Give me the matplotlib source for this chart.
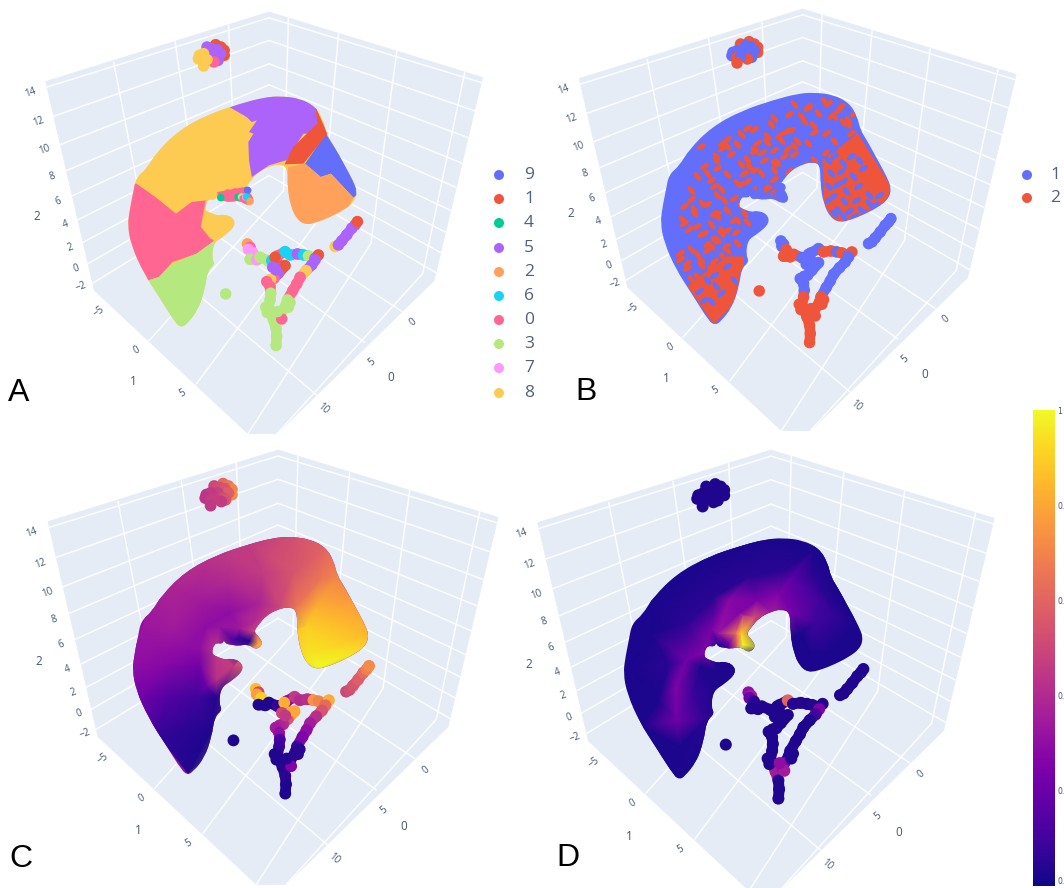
import numpy as np
import matplotlib
matplotlib.use("Agg")
import matplotlib.pyplot as plt
from matplotlib.patches import Polygon, PathPatch
from matplotlib.path import Path
from matplotlib.markers import MarkerStyle
from matplotlib.transforms import Affine2D
from matplotlib.cm import ScalarMappable
from matplotlib.colors import Normalize

BG = "#E5ECF6"
TICK = "#44566f"
COL = {9: "#636EFA", 1: "#EF553B", 4: "#00CC96", 5: "#AB63FA", 2: "#FFA15A",
       6: "#19D3F3", 0: "#FF6692", 3: "#B6E880", 7: "#FF97FF", 8: "#FECB52"}
legend_a = [9, 1, 4, 5, 2, 6, 0, 3, 7, 8]
legend_a_y = [175, 199, 223, 248, 272, 296, 320, 344, 368, 393]
legend_b = [1, 2]
legend_b_y = [175, 198]

# panel: apex of the scene box in figure pixels, and scale
panels = {"A": (269, 12, 1.0), "B": (802.5, 9, 1.0), "C": (278, 450, 1.03), "D": (771, 450, 1.045)}

# --- scene box ---
left_wall = [(145, 245), (835, 30), (835, 555), (295, 890)]
right_wall = [(835, 30), (1495, 232), (1345, 860), (835, 555)]
floor = [(295, 890), (835, 555), (1345, 860), (860, 1333), (770, 1333)]
grid_lines = [
    # z lines, left wall
    (149, 262, 835, 48), (170, 352, 835, 118), (190, 440, 835, 190), (209, 520, 835, 255),
    (227, 598, 835, 318), (244, 672, 835, 378), (260, 742, 835, 433), (275, 808, 835, 485),
    (290, 868, 835, 535),
    # z lines, right wall
    (835, 48, 1491, 248), (835, 118, 1470, 335), (835, 190, 1450, 418), (835, 255, 1431, 497),
    (835, 318, 1413, 572), (835, 378, 1396, 643), (835, 433, 1380, 710), (835, 485, 1365, 773),
    (835, 535, 1350, 835),
    # uprights
    (355, 185, 470, 780), (545, 122, 625, 685), (710, 70, 735, 620),
    (895, 48, 880, 582), (1050, 97, 1000, 655), (1230, 152, 1150, 745), (1440, 215, 1310, 838),
    # floor
    (880, 582, 465, 1045), (1000, 655, 610, 1180), (1150, 745, 770, 1333), (1310, 838, 860, 1333),
    (735, 620, 1245, 955), (625, 685, 1130, 1050), (470, 780, 990, 1220),
]
tick_text = ["14", "12", "10", "8", "6", "4", "2", "0", "\u22122"]
tick_x = [97, 122, 143, 165, 185, 205, 222, 238, 255]
tick_y = [278, 370, 457, 538, 615, 688, 757, 822, 880]
base_text = ["\u22125", "0", "5", "10", "5", "0"]
base_x = [310, 427, 567, 1002, 1152, 1280]
base_y = [955, 1075, 1210, 1255, 1112, 990]
base_rot = [35, 30, 30, -40, 40, 40]
title_text = ["2", "1", "0"]
title_x = [118, 415, 1212]
title_y = [663, 1172, 1160]

# --- main body outline (panel C crop coordinates) ---
body_x = [870, 930, 978, 1002, 1012, 1034, 1064, 1094, 1108, 1098, 1062, 1022, 985, 950, 922, 902, 892, 892,
          865, 835, 800, 775, 762, 778, 790, 770, 745, 715, 695, 680, 672, 668, 645, 635, 650, 680, 690, 722,
          732, 697, 664, 658, 668, 645, 636, 615, 580, 565, 548, 498, 446, 410, 398, 405, 415, 424, 456, 486, 556,
          648, 750, 820]
body_y = [290, 297, 322, 362, 405, 440, 495, 550, 585, 618, 644, 664, 679, 688, 672, 630, 570, 510,
          501, 508, 526, 556, 575, 590, 612, 630, 612, 618, 614, 612, 600, 612, 608, 640, 650, 660, 655, 663,
          690, 722, 742, 790, 810, 830, 890, 952, 995, 1004, 994, 914, 834, 752, 690, 640, 590, 543, 516, 466, 396,
          346, 312, 294]

# panel A regions, crop-A coordinates
a_8 = [(665, 320), (715, 350), (730, 365), (745, 360), (722, 395), (735, 400), (720, 425), (738, 480), (722, 530),
       (690, 555), (650, 580), (610, 590), (575, 592), (555, 605), (510, 640), (450, 590), (395, 550), (360, 400),
       (600, 250)]
a_8b = [(596, 600), (632, 600), (640, 640), (680, 650), (684, 680), (630, 722), (610, 715), (582, 680)]
a_0 = [(395, 550), (450, 590), (510, 640), (555, 605), (600, 600), (590, 650), (590, 680), (620, 722),
       (570, 760), (500, 785), (460, 830), (430, 840), (340, 800), (340, 560)]
a_3 = [(430, 840), (460, 830), (500, 790), (570, 760), (620, 722), (640, 800), (620, 900), (525, 1000), (420, 900)]
a_5 = [(665, 320), (800, 270), (920, 300), (920, 400), (880, 400), (830, 480), (780, 495), (730, 530), (722, 480),
       (720, 425), (735, 400), (722, 395), (745, 360), (730, 365), (715, 350)]
a_1 = [(915, 320), (950, 400), (880, 490), (825, 492), (850, 440), (890, 400), (920, 370)]
a_9 = [(945, 400), (1050, 570), (1025, 592), (960, 520), (930, 530), (885, 490)]
a_2 = [(835, 500), (885, 490), (930, 530), (960, 520), (1025, 592), (1000, 640), (890, 690), (830, 620)]
a_stub = [(630, 575), (735, 555), (740, 625), (630, 612)]
a_regions = [(a_8, 8), (a_0, 0), (a_3, 3), (a_8b, 8), (a_5, 5), (a_9, 9), (a_2, 2), (a_1, 1), (a_stub, 0)]

# panel B: solid red areas and flecks, crop-B coordinates
b_tip = [(440, 860), (480, 830), (520, 800), (560, 770), (610, 770), (610, 840), (590, 900), (520, 975)]
b_right = [(845, 480), (900, 440), (950, 400), (1050, 560), (1040, 600), (960, 650), (890, 672), (850, 620)]
b_red_x = [620, 560, 545, 525, 545, 625, 490, 470, 430, 485, 520, 550, 600, 530, 470, 510, 420,
           480, 500, 540, 580, 610, 650, 680, 700, 720, 750, 780, 800, 830, 860, 880, 900, 920, 940, 760, 730,
           700, 670, 640, 610, 590, 520, 500, 480, 450, 430, 460, 490, 520, 555, 590, 570, 545, 510, 470, 440,
           760, 800, 850, 890, 700, 745, 790, 870, 920, 640, 690, 735, 815, 855, 905, 560, 600, 715, 770, 820,
           880, 930, 590, 640, 680, 740, 800, 855, 525, 570, 620, 665, 710, 760, 820, 530, 600,
           640, 700, 745, 800, 510, 560, 620, 660, 700, 540, 600, 650, 450, 530, 580, 460,
           500, 560, 610, 425, 530, 590, 445, 510, 560, 620, 480, 530, 585, 450,
           500, 560, 420, 470, 520, 545, 440, 480, 510, 450, 490]
b_red_y = [385, 440, 445, 470, 430, 500, 500, 530, 620, 610, 640, 600, 610, 650, 680, 740, 760,
           780, 750, 700, 660, 640, 430, 410, 450, 420, 390, 350, 320, 340, 310, 350, 320, 360, 340, 440, 470,
           510, 480, 450, 520, 550, 560, 520, 440, 570, 670, 640, 700, 720, 740, 730, 780, 690, 800, 830, 790,
           312, 326, 305, 332, 356, 342, 364, 348, 372, 388, 372, 395, 376, 399, 368, 418, 402, 405, 425, 398,
           424, 400, 432, 455, 428, 448, 430, 458, 482, 462, 478, 458, 486, 464, 480, 505, 492,
           512, 490, 515, 496, 540, 522, 545, 520, 538, 568, 552, 570, 598, 585, 596, 628,
           612, 632, 608, 658, 644, 662, 688, 672, 690, 668, 702, 718, 696, 748,
           732, 752, 778, 762, 784, 768, 806, 796, 812, 838, 826]
b_blue_x = [490, 510, 475, 525, 560, 500, 540, 860, 880, 905, 930, 870, 900, 935, 965, 860, 885, 915, 950, 985, 875,
            910, 945, 985, 1015, 890, 925, 960, 1000, 905, 940, 975, 860, 880, 905, 955, 875, 580, 520]
b_blue_y = [900, 905, 875, 860, 800, 840, 880, 480, 470, 490, 470, 520, 515, 530, 505, 560, 555, 575, 560, 585, 590,
            605, 600, 610, 585, 630, 635, 630, 615, 650, 650, 640, 600, 640, 545, 480, 450, 840, 825]

# panel C colour field: points inside the body and the value they show
c_x = [565, 480, 550, 630, 420, 500, 590, 650, 403, 500, 600, 430, 520, 620, 520, 600, 690, 620, 680, 780, 750, 790,
       840, 870, 880, 890, 975, 960, 1010, 950, 1060, 1000, 920, 1100, 1000, 930, 1060, 960, 650, 700, 650, 620,
       700, 720, 750, 775, 768, 380, 1130, 700, 1000, 600, 660, 740, 470, 560, 450, 700, 800, 720, 760]
c_y = [1000, 890, 880, 880, 770, 770, 770, 770, 680, 670, 680, 560, 560, 560, 450, 480, 520, 370, 420, 490, 315, 400,
       500, 292, 400, 500, 325, 420, 410, 500, 495, 540, 560, 585, 620, 640, 640, 680, 630, 680, 720, 740,
       600, 590, 603, 612, 575, 700, 600, 250, 280, 620, 560, 530, 620, 620, 500, 350, 350, 565, 548]
c_v = [.03, .07, .05, .03, .22, .15, .10, .04, .30, .28, .22, .33, .35, .30, .38, .35, .30, .42, .40, .38, .46, .46,
       .50, .52, .55, .65, .60, .66, .70, .82, .78, .85, .90, .85, .92, .95, .95, 1.0, .45, .47, .42, .20,
       .12, .10, .03, .80, .50, .30, .85, .46, .60, .30, .32, .38, .31, .30, .35, .45, .50, .34, .40]

# panel D colour field, crop-D coordinates
d_x = [470, 500, 570, 650, 700, 800, 880, 920, 470, 545, 590, 660, 690, 745, 800, 860, 960, 640, 655, 660, 640, 620, 595,
       400, 330, 370, 470, 700, 900, 990, 850, 600, 520, 560, 760, 620, 850,
       450, 500, 580, 680, 780, 860, 900, 400, 450, 560, 680, 780, 860, 900, 950, 420, 540, 580, 575, 820, 900, 960, 480,
       620, 760]
d_y = [960, 780, 690, 640, 600, 530, 600, 650, 860, 760, 700, 650, 650, 640, 640, 670, 660, 700, 700, 735, 735, 730, 735,
       600, 800, 980, 1130, 420, 450, 700, 800, 820, 880, 960, 750, 790, 760,
       800, 670, 590, 530, 510, 530, 600, 700, 560, 470, 430, 420, 450, 500, 620, 900, 800, 810, 870, 700, 760, 700, 1040,
       600, 580]
d_v = [.22, .22, .24, .26, .24, .16, .09, .07, .25, .26, .32, .45, .50, .35, .22, .10, .03, .65, .90, 1.0, .55, .20, .04,
       .02, .02, .02, .02, .02, .02, .02, .02, .03, .08, .05, .02, .04, .02,
       .05, .05, .05, .05, .05, .05, .05, .02, .02, .02, .02, .02, .02, .02, .02, .02, .03, .03, .03, .02, .02, .02, .02,
       .28, .25]

# top island, crop-A coordinates
isl_x = [625, 640, 650, 650, 600, 615, 630, 640, 610, 625, 632, 620, 578, 590, 575, 590, 600, 590]
isl_y = [133, 140, 150, 165, 140, 145, 148, 160, 160, 175, 180, 185, 165, 160, 175, 180, 178, 197]
isl_a = [1, 1, 1, 1, 5, 5, 5, 5, 5, 5, 5, 0, 8, 8, 8, 8, 8, 8]
isl_b = [2, 2, 2, 2, 2, 1, 1, 1, 1, 1, 1, 2, 1, 1, 1, 2, 1, 2]
isl_c = [.62, .66, .70, .72, .50, .52, .55, .58, .48, .52, .55, .46, .44, .45, .44, .46, .47, .45]
isl_d = [.03] * len(isl_x)

# small stub by the hole, crop-A coordinates
stub_x = [640, 660, 680, 690, 700, 705, 712, 718, 715, 725]
stub_y = [592, 578, 575, 590, 590, 595, 590, 570, 590, 603]
stub_a = [4, 0, 0, 4, 3, 0, 7, 9, 6, 2]
stub_b = [1, 1, 2, 1, 2, 1, 2, 1, 1, 1]

# legs and small branches, zoomed crop coordinates
leg_x = [142, 150, 145, 158, 150, 170, 180, 205, 215, 232, 255, 270, 292, 310, 325, 345, 355,
         225, 240, 235, 255, 222, 212, 200, 210, 212, 210, 205, 212, 220, 228, 230, 228,
         345, 335, 318, 300, 290, 278, 262, 258, 245, 240, 245, 77,
         405, 415, 425, 440, 455, 465, 472,
         197, 202, 270, 265, 232, 218, 228]
leg_y = [222, 232, 238, 248, 268, 270, 262, 272, 272, 258, 245, 255, 252, 255, 258, 265, 255,
         262, 295, 310, 287, 325, 328, 335, 350, 370, 390, 415, 430, 450, 475, 500, 527,
         270, 285, 302, 322, 342, 362, 390, 405, 425, 440, 447, 372,
         230, 225, 213, 195, 175, 165, 155,
         412, 428, 398, 412, 425, 292, 300]
leg_a = [2, 0, 7, 7, 3, 7, 3, 3, 6, 0, 6, 6, 5, 6, 3, 5, 1,
         1, 5, 5, 1, 0, 8, 0, 0, 3, 3, 3, 3, 3, 3, 3, 3,
         5, 5, 8, 0, 0, 0, 3, 3, 3, 3, 0, 3,
         8, 5, 5, 5, 5, 5, 1,
         3, 3, 3, 3, 3, 5, 5]
leg_b = [1, 1, 1, 2, 2, 2, 2, 1, 1, 1, 1, 2, 2, 1, 2, 1, 2,
         1, 1, 1, 1, 1, 1, 1, 1, 1, 2, 2, 2, 2, 2, 2, 2,
         1, 1, 1, 1, 1, 1, 2, 2, 2, 2, 2, 2,
         1, 1, 1, 1, 1, 1, 1,
         2, 2, 2, 2, 2, 1, 1]
leg_c = [.85, .50, .78, .90, .03, .03, .03, .08, .06, .30, .45, .40, .42, .75, .70, .65, .82,
         .82, .80, .55, .80, .40, .38, .35, .30, .12, .08, .05, .03, .04, .05, .03, .03,
         .62, .55, .42, .35, .30, .25, .08, .05, .03, .04, .25, .03,
         .50, .52, .55, .58, .62, .68, .72,
         .03, .03, .05, .05, .04, .50, .45]
leg_d = [.30, .35, .20, .05, .03, .03, .03, .03, .03, .03, .60, .04, .04, .03, .04, .04, .03,
         .03, .03, .03, .03, .03, .03, .03, .03, .03, .03, .03, .25, .35, .03, .03, .03,
         .25, .10, .03, .03, .03, .03, .03, .03, .25, .30, .35, .03,
         .03, .03, .03, .03, .03, .03, .03,
         .03, .03, .03, .03, .30, .03, .03]
# index ranges of the joined-up runs in the leg arrays
leg_runs = [(0, 17), (17, 33), (33, 44), (45, 52)]


def from_a(x, y):
    return 835 + (np.asarray(x, float) - 780) * 1.064, 30 + (np.asarray(y, float) - 35) * 1.03


def from_b(x, y):
    return 835 + (np.asarray(x, float) - 785) * 1.033, 30 + (np.asarray(y, float) - 28) * 1.03


def from_d(x, y):
    return 63 + 1.045 * np.asarray(x, float), -118 + 0.985 * np.asarray(y, float)


def from_zoom(x, y):
    return 622 + 1.03 * np.asarray(x, float), 518 + 1.03 * np.asarray(y, float)


def place(x, y, name):
    ox, oy, s = panels[name]
    return ox + s * (np.asarray(x, float) - 835) / 3.09, oy + s * (np.asarray(y, float) - 30) / 3.09


def dots(ax, x, y, c, name, size=11.5, z=5):
    px, py = place(x, y, name)
    d = size * panels[name][2] * 0.72
    ax.scatter(px, py, s=d ** 2, c=c, linewidths=0, zorder=z)


def legs(ax, colors, name):
    px, py = place(leg_sx, leg_sy, name)
    lw = 10.5 * panels[name][2] * 0.72
    for a, b in leg_runs:
        for i in range(a, b - 1):
            ax.plot(px[i:i + 2], py[i:i + 2], color=colors[i], lw=lw, solid_capstyle="round", zorder=4.5)
    dots(ax, leg_sx, leg_sy, colors, name)


def frame(ax, name):
    for face in (left_wall, right_wall, floor):
        xs, ys = place([p[0] for p in face], [p[1] for p in face], name)
        ax.add_patch(Polygon(np.column_stack([xs, ys]), fc=BG, ec=BG, lw=0.5, zorder=1))
    for x0, y0, x1, y1 in grid_lines:
        xs, ys = place([x0, x1], [y0, y1], name)
        ax.plot(xs, ys, color="white", lw=1.1, alpha=0.9, zorder=2, solid_capstyle="round")
    xs, ys = place(tick_x, tick_y, name)
    for t, x, y in zip(tick_text, xs, ys):
        ax.text(x, y, t, fontsize=7, color=TICK, rotation=20, ha="center", va="center", family="Open Sans")
    xs, ys = place(base_x, base_y, name)
    for t, x, y, r in zip(base_text, xs, ys, base_rot):
        ax.text(x, y, t, fontsize=7, color=TICK, rotation=r, ha="center", va="center", family="Open Sans")
    xs, ys = place(title_x, title_y, name)
    for t, x, y in zip(title_text, xs, ys):
        ax.text(x, y, t, fontsize=8.5, color=TICK, ha="center", va="center", family="Open Sans")


def body(ax, name, color, edge=True):
    # closed quadratic curve through the midpoints, so the outline stays round
    xs, ys = place(body_x, body_y, name)
    pts = np.column_stack([xs, ys])
    mids = (pts + np.roll(pts, -1, axis=0)) / 2
    verts, codes = [mids[-1]], [Path.MOVETO]
    for p, m in zip(pts, mids):
        verts += [p, m]
        codes += [Path.CURVE3, Path.CURVE3]
    patch = PathPatch(Path(np.array(verts), codes), fc=color, ec=color if edge else "none", lw=1.0, zorder=3)
    ax.add_patch(patch)
    return patch


def clipped_poly(ax, pts, color, conv, name, clip):
    x, y = conv([p[0] for p in pts], [p[1] for p in pts])
    xs, ys = place(x, y, name)
    p = Polygon(np.column_stack([xs, ys]), fc=color, ec="none", zorder=3.5)
    ax.add_patch(p)
    p.set_clip_path(clip)


def flecks(ax, x, y, color, clip, z):
    # short worm-like marks, two orientations
    sx, sy = from_b(x, y)
    px, py = place(sx, sy, "B")
    for k, angle in enumerate((35, -50)):
        mk = MarkerStyle("o", transform=Affine2D().scale(1.5, 0.75).rotate_deg(angle))
        sc = ax.scatter(px[k::2], py[k::2], s=24, c=color, marker=mk, linewidths=0, zorder=z)
        sc.set_clip_path(clip)


fig = plt.figure(figsize=(10.64, 8.88), dpi=100)
ax = fig.add_axes([0, 0, 1, 1])
ax.set_xlim(0, 1064)
ax.set_ylim(888, 0)
ax.axis("off")

for name in panels:
    frame(ax, name)

leg_sx, leg_sy = from_zoom(leg_x, leg_y)
isl_sx, isl_sy = from_a(isl_x, isl_y)
stub_sx, stub_sy = from_a(stub_x, stub_y)

# A
clip = body(ax, "A", COL[8], edge=False)
for pts, k in a_regions:
    clipped_poly(ax, pts, COL[k], from_a, "A", clip)
dots(ax, stub_sx, stub_sy, [COL[k] for k in stub_a], "A", size=7.5)
legs(ax, [COL[k] for k in leg_a], "A")
dots(ax, isl_sx, isl_sy, [COL[k] for k in isl_a], "A")

# B
clip = body(ax, "B", COL[9])
clipped_poly(ax, b_tip, COL[1], from_b, "B", clip)
clipped_poly(ax, b_right, COL[1], from_b, "B", clip)
flecks(ax, np.array(b_red_x, float), np.array(b_red_y, float), COL[1], clip, 3.6)
flecks(ax, np.array(b_blue_x, float), np.array(b_blue_y, float), COL[9], clip, 3.7)
dots(ax, stub_sx, stub_sy, [COL[{1: 9, 2: 1}[k]] for k in stub_b], "B", size=9)
legs(ax, [COL[{1: 9, 2: 1}[k]] for k in leg_b], "B")
dots(ax, isl_sx, isl_sy, [COL[{1: 9, 2: 1}[k]] for k in isl_b], "B")

# C
clip = body(ax, "C", plt.cm.plasma(0.3), edge=False)
px, py = place(c_x, c_y, "C")
m = ax.tripcolor(px, py, c_v, shading="gouraud", cmap="plasma", vmin=0, vmax=1, zorder=3.5)
m.set_clip_path(clip)
legs(ax, plt.cm.plasma(leg_c), "C")
dots(ax, isl_sx, isl_sy, plt.cm.plasma(isl_c), "C")

# D
clip = body(ax, "D", plt.cm.plasma(0.02), edge=False)
sx, sy = from_d(d_x, d_y)
px, py = place(sx, sy, "D")
m = ax.tripcolor(px, py, d_v, shading="gouraud", cmap="plasma", vmin=0, vmax=1, zorder=3.5)
m.set_clip_path(clip)
legs(ax, plt.cm.plasma(leg_d), "D")
dots(ax, isl_sx, isl_sy, plt.cm.plasma(isl_d), "D")

# legends
ax.scatter([499] * len(legend_a), legend_a_y, s=52, c=[COL[k] for k in legend_a], linewidths=0)
for k, y in zip(legend_a, legend_a_y):
    ax.text(529, y, str(k), fontsize=12.5, color="#50617d", ha="center", va="center", family="Open Sans")
ax.scatter([1027] * 2, legend_b_y, s=52, c=[COL[9], COL[1]], linewidths=0)
for k, y in zip(legend_b, legend_b_y):
    ax.text(1055, y, str(k), fontsize=12.5, color="#50617d", ha="center", va="center", family="Open Sans")

# panel letters
for t, x, y in [("A", 19, 393), ("B", 586, 392), ("C", 21, 859), ("D", 568, 858)]:
    ax.text(x, y, t, fontsize=23, color="black", ha="center", va="center", family="Liberation Sans")

# colour bar; the reference only shows the start of its tick labels
cax = fig.add_axes([1033 / 1064, 1 - 886 / 888, 22 / 1064, 476 / 888])
cb = fig.colorbar(ScalarMappable(Normalize(0, 1), "plasma"), cax=cax, ticks=[0, .2, .4, .6, .8, 1])
cb.outline.set_visible(False)
cb.ax.set_yticklabels(["0.", "0.", "0.", "0.", "0.", "1"])
cb.ax.tick_params(length=0, pad=1.5, labelsize=5.6, labelcolor=TICK)
cb.ax.get_yticklabels()[0].set_va("bottom")

fig.savefig("out.png", dpi=100)
